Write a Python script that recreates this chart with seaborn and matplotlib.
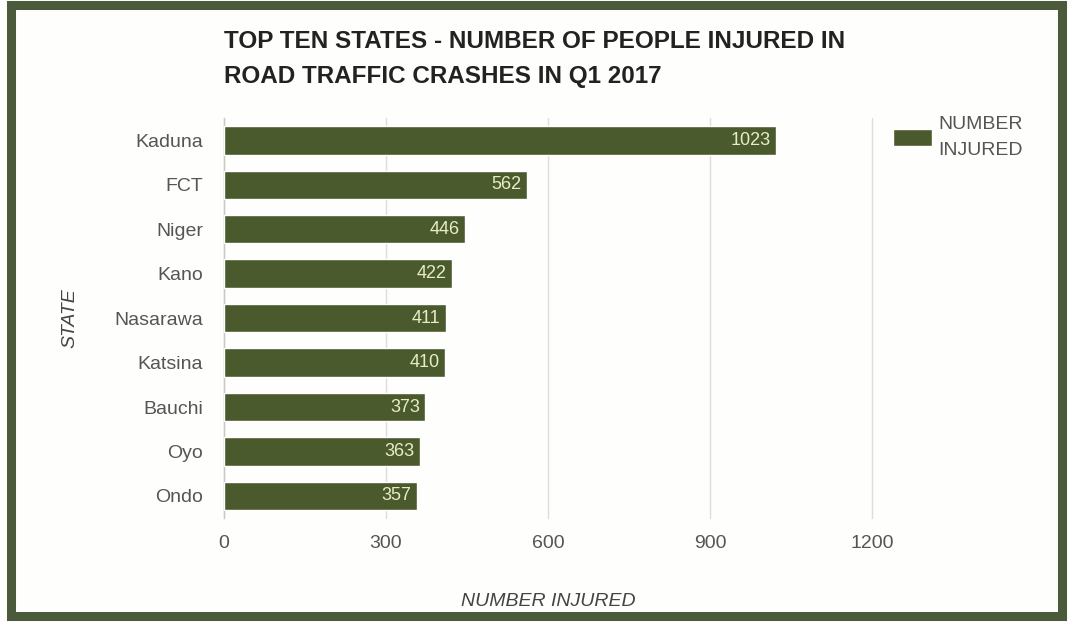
import numpy as np
import pandas as pd
import matplotlib
matplotlib.use("Agg")
import matplotlib.pyplot as plt
import matplotlib.patches as patches
import seaborn as sns

# top ten states by number injured in road crashes, Q1 2017
states = ["Kaduna", "FCT", "Niger", "Kano", "Nasarawa", "Katsina", "Bauchi", "Oyo", "Ondo"]
injured = [1023, 562, 446, 422, 411, 410, 373, 363, 357]
x_ticks = [0, 300, 600, 900, 1200]

bar_color = "#4a5a2c"
frame_color = "#4b5a3b"

sns.set_theme(style="white")
plt.rcParams["font.family"] = ["Liberation Sans", "DejaVu Sans"]

df = pd.DataFrame({"STATE": states, "NUMBER INJURED": injured})

fig = plt.figure(figsize=(10.69, 6.22), dpi=100)
fig.patch.set_facecolor("#fefefc")
ax = fig.add_axes([0.2095, 0.167, 0.6062, 0.643])
ax.set_facecolor("#fefefc")

sns.barplot(data=df, x="NUMBER INJURED", y="STATE", orient="h", color=bar_color,
            width=0.64, saturation=1, ax=ax, label="NUMBER\nINJURED", zorder=3)

labels = ax.bar_label(ax.containers[0], fmt="%d", padding=-4, color="#e6edc6", fontsize=13, zorder=4)
for t in labels:
    t.set_ha("right")

ax.set_xlim(0, 1200)
ax.set_xticks(x_ticks)
ax.set_xticklabels([str(v) for v in x_ticks])
ax.xaxis.grid(True, color="#dddddd", linewidth=1, zorder=0)
for gl in ax.get_xgridlines():
    gl.set_clip_on(False)
ax.yaxis.grid(False)
for s in ["top", "right", "bottom"]:
    ax.spines[s].set_visible(False)
ax.spines["left"].set_color("#c8c8c8")
ax.spines["left"].set_linewidth(1)
ax.tick_params(axis="both", length=0, labelsize=14, labelcolor="#555555")
ax.tick_params(axis="y", pad=15)
ax.tick_params(axis="x", pad=12)

ax.set_xlabel("NUMBER INJURED", fontsize=14, style="italic", color="#444444", labelpad=30)
ax.set_ylabel("STATE", fontsize=14, style="italic", color="#444444", labelpad=26)

fig.text(0.2095, 0.952, "TOP TEN STATES - NUMBER OF PEOPLE INJURED IN\nROAD TRAFFIC CRASHES IN Q1 2017",
         fontsize=17.5, fontweight="bold", color="#222222", ha="left", va="top", linespacing=1.65)

leg = ax.legend(loc="upper left", bbox_to_anchor=(1.033, 1.005), frameon=False, fontsize=14,
                handlelength=2.0, handleheight=0.9, handletextpad=0.3, labelcolor="#555555",
                borderaxespad=0, borderpad=0)
for t in leg.get_texts():
    t.set_linespacing(1.7)

fig.add_artist(patches.Rectangle((11 / 1069, 6 / 622), 1051 / 1069, 611 / 622,
                                 transform=fig.transFigure, fill=False,
                                 edgecolor=frame_color, linewidth=6.5))

fig.savefig("out.png", dpi=100)
